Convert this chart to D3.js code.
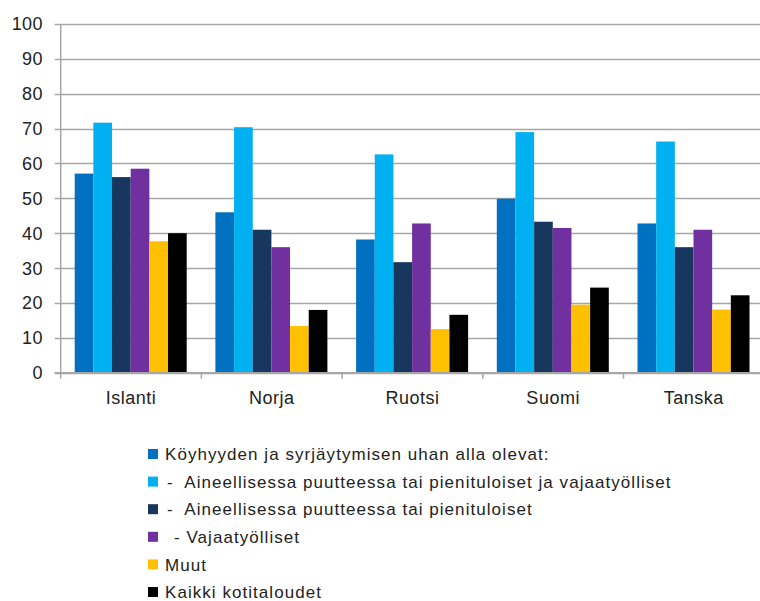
<!DOCTYPE html>
<html>
<head>
<meta charset="utf-8">
<script src="https://cdn.jsdelivr.net/npm/d3@7"></script>
<style>
    body { margin: 0; background: #fff; }
    svg { display: block; }
    text { font-family: "Liberation Sans", Arial, sans-serif; fill: #222; }
</style>
</head>
<body>
<svg id="chart" width="760" height="601"></svg>
<script>
var countries = ["Islanti", "Norja", "Ruotsi", "Suomi", "Tanska"];
var seriesNames = [
    "Köyhyyden ja syrjäytymisen uhan alla olevat:",
    "-  Aineellisessa puutteessa tai pienituloiset ja vajaatyölliset",
    "-  Aineellisessa puutteessa tai pienituloiset",
    "- Vajaatyölliset",
    "Muut",
    "Kaikki kotitaloudet"
];
var seriesColors = ["#0070C0", "#00B0F0", "#17375E", "#7030A0", "#FFC000", "#000000"];
// one array per series, in country order
var koyhyys = [57.1, 46.0, 38.2, 49.9, 42.8];
var aineellinenJaVajaa = [71.7, 70.4, 62.6, 69.0, 66.3];
var aineellinen = [56.1, 41.0, 31.7, 43.3, 36.0];
var vajaatyolliset = [58.5, 36.0, 42.8, 41.5, 41.0];
var muut = [37.7, 13.4, 12.5, 19.5, 18.1];
var kaikki = [40.0, 18.0, 16.6, 24.4, 22.2];
var yTicks = [0, 10, 20, 30, 40, 50, 60, 70, 80, 90, 100];

var seriesValues = [koyhyys, aineellinenJaVajaa, aineellinen, vajaatyolliset, muut, kaikki];

var svg = d3.select("#chart");
var margin = {left: 60.7, top: 24},
    width = 703.5,
    height = 348.7;

var g = svg.append("g").attr("transform", "translate(" + margin.left + "," + margin.top + ")");

var x = d3.scaleBand().domain(countries).range([0, width]).paddingInner(0).paddingOuter(0);
var xs = d3.scaleBand().domain(d3.range(seriesNames.length))
    .range([14, x.bandwidth() - 14.7]);
var y = d3.scaleLinear().domain([0, 100]).range([height, 0]);

// grid
g.append("g")
    .selectAll("line")
    .data(yTicks)
    .enter().append("line")
    .attr("x1", -6)
    .attr("x2", width)
    .attr("y1", function (d) { return Math.round(y(d)) + 0.5; })
    .attr("y2", function (d) { return Math.round(y(d)) + 0.5; })
    .attr("stroke", "#a6a6a6")
    .attr("stroke-width", 1.5);

g.append("g")
    .selectAll("text")
    .data(yTicks)
    .enter().append("text")
    .attr("x", -18)
    .attr("y", function (d) { return y(d); })
    .attr("dy", "0.36em")
    .attr("text-anchor", "end")
    .style("font-size", "18px")
    .style("letter-spacing", "0.3px")
    .text(function (d) { return d; });

// bars
var groups = g.append("g")
    .selectAll("g")
    .data(countries)
    .enter().append("g")
    .attr("transform", function (d) { return "translate(" + x(d) + ",0)"; });

groups.selectAll("rect")
    .data(function (c, ci) {
        return seriesValues.map(function (vals, si) { return {s: si, v: vals[ci]}; });
    })
    .enter().append("rect")
    .attr("x", function (d) { return xs(d.s); })
    .attr("width", xs.bandwidth())
    .attr("y", function (d) { return y(d.v); })
    .attr("height", function (d) { return y(0) - y(d.v); })
    .attr("fill", function (d) { return seriesColors[d.s]; });

// axes lines
g.append("line")
    .attr("x1", 0).attr("x2", 0)
    .attr("y1", 0).attr("y2", height + 6)
    .attr("stroke", "#a6a6a6").attr("stroke-width", 1.5);
g.append("line")
    .attr("x1", -6).attr("x2", width)
    .attr("y1", height).attr("y2", height)
    .attr("stroke", "#a6a6a6").attr("stroke-width", 1.5);
g.append("g")
    .selectAll("line")
    .data(countries)
    .enter().append("line")
    .attr("x1", function (d) { return x(d) + x.bandwidth(); })
    .attr("x2", function (d) { return x(d) + x.bandwidth(); })
    .attr("y1", height).attr("y2", height + 6)
    .attr("stroke", "#a6a6a6").attr("stroke-width", 1.5);

g.append("g")
    .selectAll("text")
    .data(countries)
    .enter().append("text")
    .attr("x", function (d) { return x(d) + x.bandwidth() / 2; })
    .attr("y", height + 31)
    .attr("text-anchor", "middle")
    .style("font-size", "18px")
    .style("letter-spacing", "0.5px")
    .text(function (d) { return d; });

// legend
var legend = svg.append("g").attr("transform", "translate(148,449)");
var rowStep = 27.6;
var legendTextX = [17, 19, 19, 26, 17, 17];
legend.selectAll("rect")
    .data(seriesNames)
    .enter().append("rect")
    .attr("x", 0)
    .attr("y", function (d, i) { return i * rowStep; })
    .attr("width", 10).attr("height", 10)
    .attr("fill", function (d, i) { return seriesColors[i]; });
legend.selectAll("text")
    .data(seriesNames)
    .enter().append("text")
    .attr("x", function (d, i) { return legendTextX[i]; })
    .attr("y", function (d, i) { return i * rowStep + 5; })
    .attr("dy", "0.36em")
    .style("font-size", "17px")
    .style("letter-spacing", "1.05px")
    .style("white-space", "pre")
    .text(function (d) { return d; });
</script>
</body>
</html>
